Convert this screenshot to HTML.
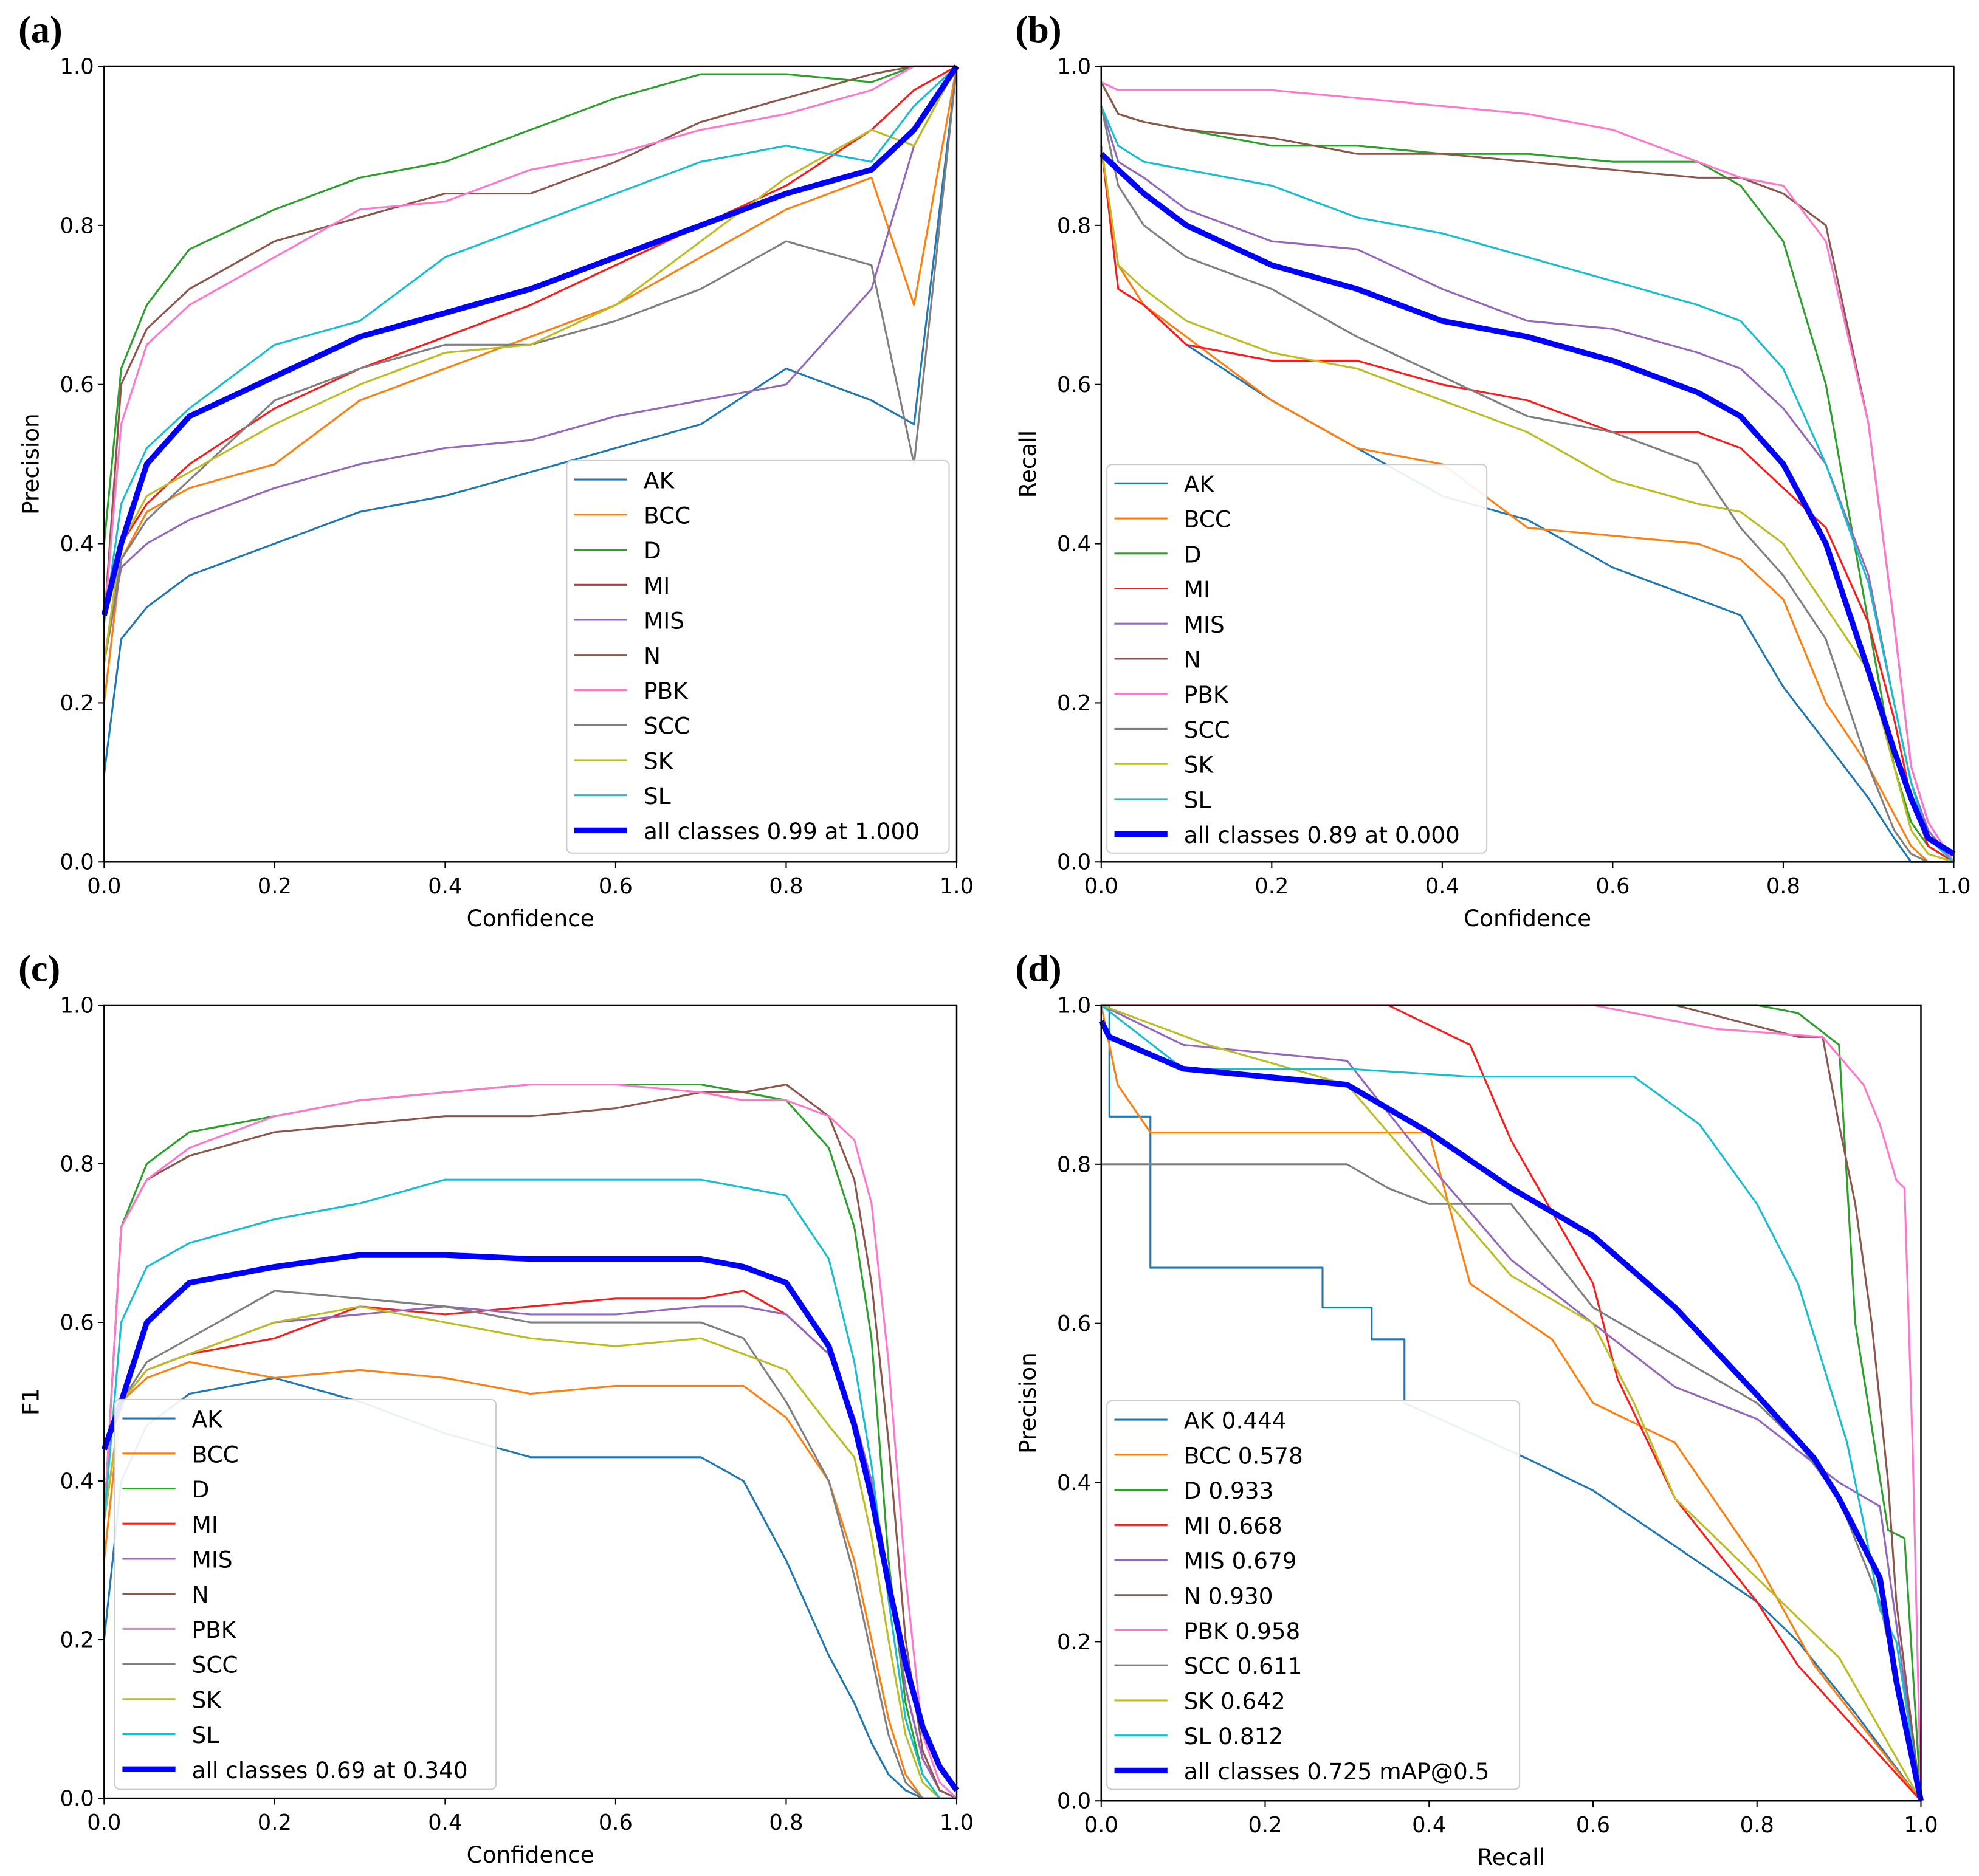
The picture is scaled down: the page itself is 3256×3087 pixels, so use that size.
<!DOCTYPE html>
<html><head><meta charset="utf-8">
<style>
html,body{margin:0;padding:0;background:#fff;}
svg{display:block;}
text{font-family:"DejaVu Sans","Liberation Sans",sans-serif;fill:#000;}
.pl{font-family:"Liberation Serif",serif;font-weight:bold;font-size:30px;}
</style></head>
<body>
<svg id="fig" xmlns="http://www.w3.org/2000/svg" width="3256" height="3087" viewBox="0 0 1568 1486.6" preserveAspectRatio="none"></svg>
<script>
const classNames = ["AK","BCC","D","MI","MIS","N","PBK","SCC","SK","SL"];
const classColors = ["#1f77b4","#ff7f0e","#2ca02c","#ff1a1a","#9467bd","#8c564b","#ff77cc","#7f7f7f","#bcbd22","#17becf"];
const tickLabels = ["0.0","0.2","0.4","0.6","0.8","1.0"];
const tickValues = [0,0.2,0.4,0.6,0.8,1.0];

// Panel (a) precision vs confidence
const aConf = [0,0.02,0.05,0.1,0.2,0.3,0.4,0.5,0.6,0.7,0.8,0.9,0.95,1.0];
const aAK  = [0.11,0.28,0.32,0.36,0.40,0.44,0.46,0.49,0.52,0.55,0.62,0.58,0.55,1.0];
const aBCC = [0.2,0.38,0.44,0.47,0.50,0.58,0.62,0.66,0.70,0.76,0.82,0.86,0.7,1.0];
const aD   = [0.4,0.62,0.7,0.77,0.82,0.86,0.88,0.92,0.96,0.99,0.99,0.98,1.0,1.0];
const aMI  = [0.25,0.4,0.45,0.5,0.57,0.62,0.66,0.70,0.75,0.80,0.85,0.92,0.97,1.0];
const aMIS = [0.25,0.37,0.4,0.43,0.47,0.50,0.52,0.53,0.56,0.58,0.60,0.72,0.9,1.0];
const aN   = [0.3,0.6,0.67,0.72,0.78,0.81,0.84,0.84,0.88,0.93,0.96,0.99,1.0,1.0];
const aPBK = [0.3,0.55,0.65,0.70,0.76,0.82,0.83,0.87,0.89,0.92,0.94,0.97,1.0,1.0];
const aSCC = [0.25,0.38,0.43,0.48,0.58,0.62,0.65,0.65,0.68,0.72,0.78,0.75,0.5,1.0];
const aSK  = [0.25,0.4,0.46,0.49,0.55,0.6,0.64,0.65,0.70,0.78,0.86,0.92,0.9,1.0];
const aSL  = [0.3,0.45,0.52,0.57,0.65,0.68,0.76,0.80,0.84,0.88,0.90,0.88,0.95,1.0];
const aAll = [0.31,0.4,0.5,0.56,0.61,0.66,0.69,0.72,0.76,0.80,0.84,0.87,0.92,1.0];

// Panel (b) recall vs confidence
const bConf = [0,0.02,0.05,0.1,0.2,0.3,0.4,0.5,0.6,0.7,0.75,0.8,0.85,0.9,0.93,0.95,0.97,1.0];
const bAK  = [0.9,0.75,0.7,0.65,0.58,0.52,0.46,0.43,0.37,0.33,0.31,0.22,0.15,0.08,0.03,0.0,0,0];
const bBCC = [0.9,0.75,0.7,0.66,0.58,0.52,0.5,0.42,0.41,0.40,0.38,0.33,0.20,0.12,0.06,0.02,0,0];
const bD   = [0.98,0.94,0.93,0.92,0.90,0.90,0.89,0.89,0.88,0.88,0.85,0.78,0.6,0.3,0.12,0.05,0.02,0];
const bMI  = [0.9,0.72,0.7,0.65,0.63,0.63,0.60,0.58,0.54,0.54,0.52,0.47,0.42,0.30,0.18,0.08,0.02,0];
const bMIS = [0.95,0.88,0.86,0.82,0.78,0.77,0.72,0.68,0.67,0.64,0.62,0.57,0.50,0.36,0.2,0.1,0.04,0];
const bN   = [0.98,0.94,0.93,0.92,0.91,0.89,0.89,0.88,0.87,0.86,0.86,0.84,0.80,0.55,0.3,0.12,0.05,0];
const bPBK = [0.98,0.97,0.97,0.97,0.97,0.96,0.95,0.94,0.92,0.88,0.86,0.85,0.78,0.55,0.3,0.12,0.05,0];
const bSCC = [0.95,0.85,0.80,0.76,0.72,0.66,0.61,0.56,0.54,0.50,0.42,0.36,0.28,0.12,0.04,0.01,0,0];
const bSK  = [0.9,0.75,0.72,0.68,0.64,0.62,0.58,0.54,0.48,0.45,0.44,0.40,0.32,0.24,0.12,0.04,0.01,0];
const bSL  = [0.95,0.9,0.88,0.87,0.85,0.81,0.79,0.76,0.73,0.7,0.68,0.62,0.5,0.35,0.2,0.1,0.03,0];
const bAll = [0.89,0.87,0.84,0.80,0.75,0.72,0.68,0.66,0.63,0.59,0.56,0.50,0.4,0.24,0.14,0.08,0.03,0.01];

// Panel (c) F1 vs confidence
const cConf = [0,0.02,0.05,0.1,0.2,0.3,0.4,0.5,0.6,0.7,0.75,0.8,0.85,0.88,0.9,0.92,0.94,0.96,0.98,1.0];
const cAK  = [0.2,0.4,0.47,0.51,0.53,0.5,0.46,0.43,0.43,0.43,0.40,0.30,0.18,0.12,0.07,0.03,0.01,0,0,0];
const cBCC = [0.3,0.5,0.53,0.55,0.53,0.54,0.53,0.51,0.52,0.52,0.52,0.48,0.40,0.30,0.2,0.1,0.03,0,0,0];
const cD   = [0.35,0.72,0.80,0.84,0.86,0.88,0.89,0.90,0.90,0.90,0.89,0.88,0.82,0.72,0.58,0.30,0.12,0.03,0,0];
const cMI  = [0.35,0.5,0.54,0.56,0.58,0.62,0.61,0.62,0.63,0.63,0.64,0.61,0.56,0.48,0.40,0.28,0.14,0.05,0.01,0];
const cMIS = [0.35,0.5,0.54,0.56,0.60,0.61,0.62,0.61,0.61,0.62,0.62,0.61,0.56,0.48,0.40,0.28,0.14,0.05,0.01,0];
const cN   = [0.35,0.72,0.78,0.81,0.84,0.85,0.86,0.86,0.87,0.89,0.89,0.90,0.86,0.78,0.65,0.45,0.2,0.06,0.01,0];
const cPBK = [0.35,0.72,0.78,0.82,0.86,0.88,0.89,0.90,0.90,0.89,0.88,0.88,0.86,0.83,0.75,0.55,0.28,0.08,0.02,0];
const cSCC = [0.35,0.5,0.55,0.58,0.64,0.63,0.62,0.60,0.60,0.60,0.58,0.50,0.40,0.28,0.18,0.08,0.02,0,0,0];
const cSK  = [0.35,0.5,0.54,0.56,0.60,0.62,0.60,0.58,0.57,0.58,0.56,0.54,0.47,0.43,0.33,0.2,0.08,0.02,0,0];
const cSL  = [0.35,0.6,0.67,0.70,0.73,0.75,0.78,0.78,0.78,0.78,0.77,0.76,0.68,0.55,0.42,0.25,0.1,0.03,0,0];
const cAll = [0.44,0.50,0.60,0.65,0.67,0.685,0.685,0.68,0.68,0.68,0.67,0.65,0.57,0.47,0.38,0.27,0.17,0.09,0.04,0.01];

// Panel (d) precision-recall
const dAKr  = [0,0.01,0.01,0.06,0.06,0.27,0.27,0.33,0.33,0.37,0.37,0.52,0.6,0.7,0.8,0.85,0.92,1.0];
const dAKp  = [1,1,0.86,0.86,0.67,0.67,0.62,0.62,0.58,0.58,0.5,0.43,0.39,0.32,0.25,0.2,0.11,0.0];
const dBCCr = [0,0.02,0.06,0.3,0.4,0.45,0.55,0.6,0.7,0.8,0.87,1.0];
const dBCCp = [1,0.9,0.84,0.84,0.84,0.65,0.58,0.5,0.45,0.3,0.17,0.0];
const dDr   = [0,0.8,0.85,0.9,0.92,0.96,0.98,1.0];
const dDp   = [1,1,0.99,0.95,0.6,0.34,0.33,0.0];
const dMIr  = [0,0.35,0.45,0.5,0.6,0.63,0.7,0.8,0.85,1.0];
const dMIp  = [1,1,0.95,0.83,0.65,0.53,0.38,0.25,0.17,0.0];
const dMISr = [0,0.1,0.3,0.4,0.5,0.6,0.7,0.8,0.9,0.95,1.0];
const dMISp = [1,0.95,0.93,0.8,0.68,0.6,0.52,0.48,0.4,0.37,0.0];
const dNr   = [0,0.7,0.85,0.88,0.9,0.92,0.94,0.96,0.97,1.0];
const dNp   = [1,1,0.96,0.96,0.85,0.75,0.6,0.4,0.25,0.0];
const dPBKr = [0,0.6,0.75,0.88,0.93,0.95,0.97,0.98,0.99,1.0];
const dPBKp = [1,1,0.97,0.96,0.9,0.85,0.78,0.77,0.44,0.0];
const dSCCr = [0,0.3,0.35,0.4,0.5,0.6,0.7,0.8,0.85,0.9,0.95,1.0];
const dSCCp = [0.8,0.8,0.77,0.75,0.75,0.62,0.56,0.5,0.45,0.38,0.25,0.0];
const dSKr  = [0,0.13,0.3,0.45,0.5,0.6,0.65,0.7,0.8,0.9,1.0];
const dSKp  = [1,0.95,0.9,0.72,0.66,0.6,0.5,0.38,0.28,0.18,0.0];
const dSLr  = [0,0.1,0.3,0.45,0.65,0.73,0.8,0.85,0.88,0.91,0.93,0.95,0.97,1.0];
const dSLp  = [1,0.92,0.92,0.91,0.91,0.85,0.75,0.65,0.55,0.45,0.35,0.24,0.2,0.0];
const dAllr = [0,0.01,0.1,0.2,0.3,0.4,0.5,0.6,0.7,0.8,0.87,0.9,0.95,0.97,1.0];
const dAllp = [0.98,0.96,0.92,0.91,0.9,0.84,0.77,0.71,0.62,0.51,0.43,0.38,0.28,0.15,0.0];
const dAP = ["0.444","0.578","0.933","0.668","0.679","0.930","0.958","0.611","0.642","0.812"];

const NS = "http://www.w3.org/2000/svg";
const fig = document.getElementById("fig");
function mk(tag, parent){ const e=document.createElementNS(NS,tag); parent.appendChild(e); return e; }

function panel(p){
  const g = mk("g", fig);
  
  
  const xs = v => p.x0 + v*(p.x1-p.x0);
  const ys = v => p.y1 - v*(p.y1-p.y0);
  // panel letter
  const pl = mk("text", g);
  
  
  pl.setAttribute("class","pl"); pl.setAttribute("x", p.x0-68); pl.setAttribute("y", p.y0-19);
  pl.textContent = "("+p.letter+")";
  // series
  const sg = mk("g", g);
  
  
  p.series.forEach((s,i)=>{
    const pts = s.xv.map((xv,k)=>xs(xv).toFixed(1)+","+ys(s.yv[k]).toFixed(1)).join(" ");
    const pl2 = mk("polyline", sg);
    
    
    pl2.setAttribute("points", pts);
    pl2.setAttribute("fill","none");
    pl2.setAttribute("stroke", s.color);
    pl2.setAttribute("stroke-width", s.w);
    pl2.setAttribute("stroke-linejoin","round");
  });
  // frame
  const fr = mk("rect", g);
  
  
  fr.setAttribute("x",p.x0); fr.setAttribute("y",p.y0);
  fr.setAttribute("width",p.x1-p.x0); fr.setAttribute("height",p.y1-p.y0);
  fr.setAttribute("fill","none"); fr.setAttribute("stroke","#000"); fr.setAttribute("stroke-width","1.2");
  // ticks
  tickValues.forEach((tv,i)=>{
    const tx = mk("line", g);
    
    
    tx.setAttribute("x1",xs(tv)); tx.setAttribute("x2",xs(tv));
    tx.setAttribute("y1",p.y1); tx.setAttribute("y2",p.y1+5); tx.setAttribute("stroke","#000");
    const tl = mk("text", g);
    
    
    tl.setAttribute("x",xs(tv)); tl.setAttribute("y",p.y1+25);
    tl.setAttribute("text-anchor","middle"); tl.setAttribute("font-size","17");
    tl.textContent = tickLabels[i];
    const ty = mk("line", g);
    
    
    ty.setAttribute("x1",p.x0-5); ty.setAttribute("x2",p.x0);
    ty.setAttribute("y1",ys(tv)); ty.setAttribute("y2",ys(tv)); ty.setAttribute("stroke","#000");
    const yl = mk("text", g);
    
    
    yl.setAttribute("x",p.x0-8); yl.setAttribute("y",ys(tv)+6);
    yl.setAttribute("text-anchor","end"); yl.setAttribute("font-size","17");
    yl.textContent = tickLabels[i];
  });
  const xt = mk("text", g);
  
  
  xt.setAttribute("x",(p.x0+p.x1)/2); xt.setAttribute("y",p.y1+51);
  xt.setAttribute("text-anchor","middle"); xt.setAttribute("font-size","18");
  xt.textContent = p.xTitle;
  const yt = mk("text", g);
  
  
  const cy=(p.y0+p.y1)/2, cx=p.x0-52;
  yt.setAttribute("transform","translate("+cx+","+cy+") rotate(-90)");
  yt.setAttribute("text-anchor","middle"); yt.setAttribute("font-size","18");
  yt.textContent = p.yTitle;
  // legend
  const lg = mk("g", g);
  
  
  const lb = mk("rect", lg);
  
  
  lb.setAttribute("x",p.lx); lb.setAttribute("y",p.ly);
  lb.setAttribute("width",p.lw); lb.setAttribute("height",p.lh);
  lb.setAttribute("rx","4"); lb.setAttribute("fill","#fff"); lb.setAttribute("fill-opacity","0.9");
  lb.setAttribute("stroke","#ccc");
  p.series.forEach((s,i)=>{
    const yy = p.ly + 15 + i*27.8;
    const ll = mk("line", lg);
    
    
    ll.setAttribute("x1",p.lx+6); ll.setAttribute("x2",p.lx+48);
    ll.setAttribute("y1",yy); ll.setAttribute("y2",yy);
    ll.setAttribute("stroke",s.color); ll.setAttribute("stroke-width",s.w);
    const lt = mk("text", lg);
    
    
    lt.setAttribute("x",p.lx+61); lt.setAttribute("y",yy+7);
    lt.setAttribute("font-size","18");
    lt.textContent = s.label;
  });
}

function mkSeries(xv, arrs, allArr, allLabel, labels){
  const out = arrs.map((a,i)=>({name:classNames[i], label:labels?labels[i]:classNames[i], color:classColors[i], w:1.5, xv:Array.isArray(xv[0])?xv[i]:xv, yv:a}));
  out.push({name:"all classes", label:allLabel, color:"#0000ff", w:4.5, xv:allArr.x, yv:allArr.y});
  return out;
}

panel({id:"a", letter:"a", x0:82.5, x1:758, y0:52.5, y1:683, xTitle:"Confidence", yTitle:"Precision",
  lx:449, ly:365, lw:303, lh:311,
  series: mkSeries(aConf,[aAK,aBCC,aD,aMI,aMIS,aN,aPBK,aSCC,aSK,aSL],{x:aConf,y:aAll},"all classes 0.99 at 1.000")});
panel({id:"b", letter:"b", x0:872.5, x1:1548, y0:52.5, y1:683, xTitle:"Confidence", yTitle:"Recall",
  lx:877, ly:368, lw:301, lh:308,
  series: mkSeries(bConf,[bAK,bBCC,bD,bMI,bMIS,bN,bPBK,bSCC,bSK,bSL],{x:bConf,y:bAll},"all classes 0.89 at 0.000")});
panel({id:"c", letter:"c", x0:82.5, x1:758, y0:796.5, y1:1425, xTitle:"Confidence", yTitle:"F1",
  lx:91, ly:1109, lw:302, lh:309,
  series: mkSeries(cConf,[cAK,cBCC,cD,cMI,cMIS,cN,cPBK,cSCC,cSK,cSL],{x:cConf,y:cAll},"all classes 0.69 at 0.340")});
panel({id:"d", letter:"d", x0:872.5, x1:1522, y0:796.5, y1:1427, xTitle:"Recall", yTitle:"Precision",
  lx:877, ly:1110, lw:327, lh:308,
  series: mkSeries([dAKr,dBCCr,dDr,dMIr,dMISr,dNr,dPBKr,dSCCr,dSKr,dSLr],[dAKp,dBCCp,dDp,dMIp,dMISp,dNp,dPBKp,dSCCp,dSKp,dSLp],{x:dAllr,y:dAllp},"all classes 0.725 mAP@0.5", classNames.map((n,i)=>n+" "+dAP[i]))});
</script>
</body></html>
